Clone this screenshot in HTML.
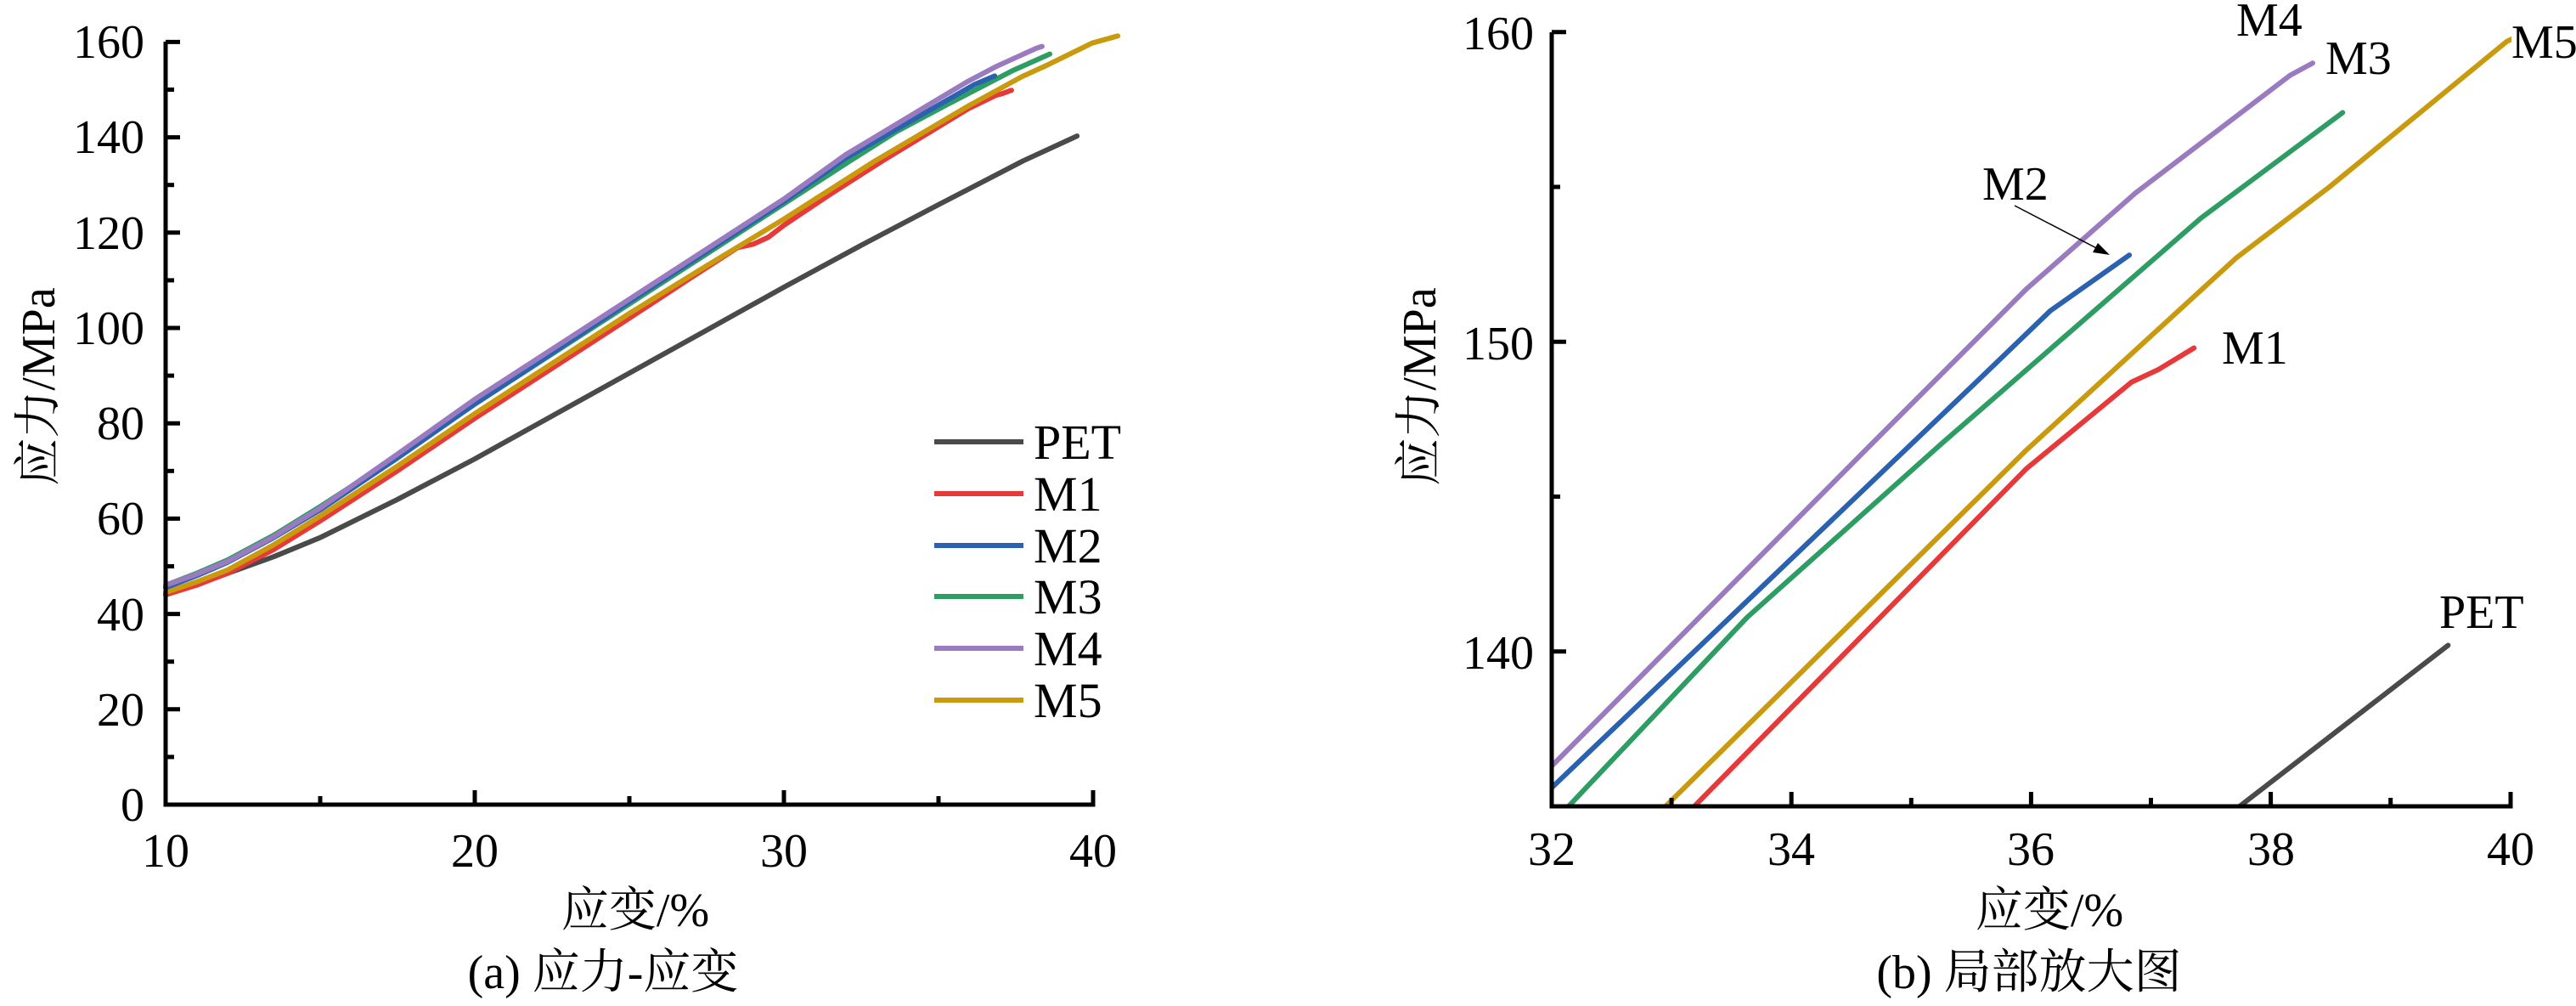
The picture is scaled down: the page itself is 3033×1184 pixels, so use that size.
<!DOCTYPE html>
<html><head><meta charset="utf-8"><style>
html,body{margin:0;padding:0;background:#fff;overflow:hidden;width:3033px;height:1184px}
svg{display:block}
svg text{font-family:"Liberation Serif","Noto Serif CJK SC",serif;fill:#000}
</style></head><body>
<svg id="s" width="3033" height="1184" viewBox="0 0 3033 1184" xmlns="http://www.w3.org/2000/svg" font-family="'Liberation Serif','Noto Serif CJK SC',serif">
<defs><clipPath id="cr"><rect x="1827" y="38" width="1130" height="911"/></clipPath></defs>
<g id="lc"></g>
<g id="rc" clip-path="url(#cr)"></g>
<g id="ax" stroke="#000" stroke-width="5" fill="none"></g>
<g font-size="56" text-anchor="end">
<text x="170" y="966">0</text><text x="170" y="854">20</text><text x="170" y="742">40</text><text x="170" y="629">60</text><text x="170" y="517">80</text><text x="170" y="405">100</text><text x="170" y="293">120</text><text x="170" y="180">140</text><text x="170" y="68">160</text>
</g>
<g font-size="56" text-anchor="middle">
<text x="195" y="1020">10</text><text x="559" y="1020">20</text><text x="923" y="1020">30</text><text x="1287" y="1020">40</text>
<text x="748" y="1090">应变/%</text>
<text x="710" y="1163">(a) 应力-应变</text>
<text transform="translate(64,455) rotate(-90)">应力/MPa</text>
</g>
<g font-size="58">
<text x="1217" y="540">PET</text><text x="1217" y="601">M1</text><text x="1217" y="662">M2</text><text x="1217" y="722">M3</text><text x="1217" y="783">M4</text><text x="1217" y="844">M5</text>
</g>
<g stroke-width="6">
<line x1="1100" y1="520" x2="1205" y2="520" stroke="#4a4a4a"/>
<line x1="1100" y1="581" x2="1205" y2="581" stroke="#e8393a"/>
<line x1="1100" y1="642" x2="1205" y2="642" stroke="#2a62b0"/>
<line x1="1100" y1="702" x2="1205" y2="702" stroke="#2e9d63"/>
<line x1="1100" y1="763" x2="1205" y2="763" stroke="#9b7bbf"/>
<line x1="1100" y1="824" x2="1205" y2="824" stroke="#c99a0e"/>
</g>
<g font-size="56" text-anchor="end">
<text x="1806" y="787">140</text><text x="1806" y="423">150</text><text x="1806" y="58">160</text>
</g>
<g font-size="56" text-anchor="middle">
<text x="1827" y="1018">32</text><text x="2109" y="1018">34</text><text x="2391" y="1018">36</text><text x="2674" y="1018">38</text><text x="2956" y="1018">40</text>
<text x="2413" y="1090">应变/%</text>
<text x="2389" y="1163">(b) 局部放大图</text>
<text transform="translate(1690,455) rotate(-90)">应力/MPa</text>
</g>
<g font-size="56">
<text x="2633" y="42">M4</text><text x="2738" y="87">M3</text><text x="2957" y="68">M5</text><text x="2334" y="235">M2</text><text x="2616" y="428">M1</text><text x="2872" y="739">PET</text>
</g>
<line x1="2372" y1="242" x2="2478" y2="297" stroke="#000" stroke-width="1.5"/>
<polygon points="2484,300 2464,297 2470,286" fill="#000"/>
</svg>
<script>
var D={
"#4a4a4a":[[10,44],[11,46.2],[12,48.5],[13.5,52],[15,56],[17.5,64],[20,72.5],[22.5,81.5],[25,90.5],[27.5,99.5],[30,108.5],[32.5,117.3],[35,125.8],[37.74,135],[39.48,140.2]],
"#e8393a":[[10,44],[11,46],[12,48.5],[13.5,53.5],[15,59.5],[17.5,70],[20,81],[22.5,91.5],[25,102],[27,110.5],[28.5,116.8],[29,117.5],[29.5,119],[30,121.5],[31.5,128],[33.19,135],[35.96,145.9],[36.84,148.7],[37.06,149.1],[37.36,149.8]],
"#c99a0e":[[10,44.5],[11,46.7],[12,49.2],[13.5,54.5],[15,60.5],[17.5,71],[20,82],[22.5,92.5],[25,103],[27.5,113],[30,122.8],[32.95,135],[35.96,146.5],[37.71,152.7],[38.49,155],[39.97,159.7],[40.8,161.2]],
"#2e9d63":[[10,46],[11,48.5],[12,51.3],[13.5,56.5],[15,62.5],[17.5,73],[20,84],[22.5,94.5],[25,105],[27.5,115.5],[30,126],[32.14,135],[33.63,141.1],[35.25,146.7],[37.42,154],[38.6,157.4]],
"#2a62b0":[[10,45.5],[11,48],[12,50.8],[13.5,56],[15,61.8],[17.5,72.7],[20,84],[22.5,94.7],[25,105.5],[27.5,116],[30,126.5],[32,135.6],[35.57,148.8],[36.16,151],[36.82,152.8]],
"#9b7bbf":[[10,46],[11,48.3],[12,51],[13.5,56.2],[15,62.2],[17.5,73.5],[20,85],[22.5,95.5],[25,106],[27.5,116.5],[30,127],[32,136.3],[34.67,146.7],[35.96,151.7],[36.87,154.8],[38.16,158.6],[38.35,159.0]]};
var NS="http://www.w3.org/2000/svg";
function add(g,pts,c,w){var p=document.createElementNS(NS,"polyline");p.setAttribute("points",pts.join(" "));p.setAttribute("fill","none");p.setAttribute("stroke",c);p.setAttribute("stroke-width",w);p.setAttribute("stroke-linejoin","round");p.setAttribute("stroke-linecap","round");document.querySelector(g).appendChild(p);}
for(var c in D){var d=D[c];
add("#lc",d.map(function(a){return (195+(a[0]-10)*36.4).toFixed(1)+","+(947-a[1]*5.6125).toFixed(1)}),c,6);
add("#rc",d.map(function(a){return (1827+(a[0]-32)*141.1).toFixed(1)+","+(949-(a[1]-135)*36.45).toFixed(1)}),c,6);}
var ax=document.querySelector("#ax"),h="";
h+='<polyline points="195,49 195,947 1287,947 1287,930"/>';
for(var i=1;i<=16;i++){var y=947-i*56.1;h+='<line x1="195" y1="'+y+'" x2="'+(i%2==0?212:205)+'" y2="'+y+'"/>';}
[15,20,25,30,35].forEach(function(s){var x=195+(s-10)*36.4;h+='<line x1="'+x+'" y1="947" x2="'+x+'" y2="'+(s%10==0?930:937)+'"/>';});
h+='<polyline points="1827,38 1827,949 2956,949 2956,932"/>';
[140,145,150,155,160].forEach(function(v){var y=949-(v-135)*36.45;h+='<line x1="1827" y1="'+y+'" x2="'+(v%10==0?1844:1837)+'" y2="'+y+'"/>';});
[33,34,35,36,37,38,39].forEach(function(s){var x=1827+(s-32)*141.1;h+='<line x1="'+x+'" y1="949" x2="'+x+'" y2="'+(s%2==0?932:939)+'"/>';});
ax.innerHTML=h;
</script>
</body></html>
